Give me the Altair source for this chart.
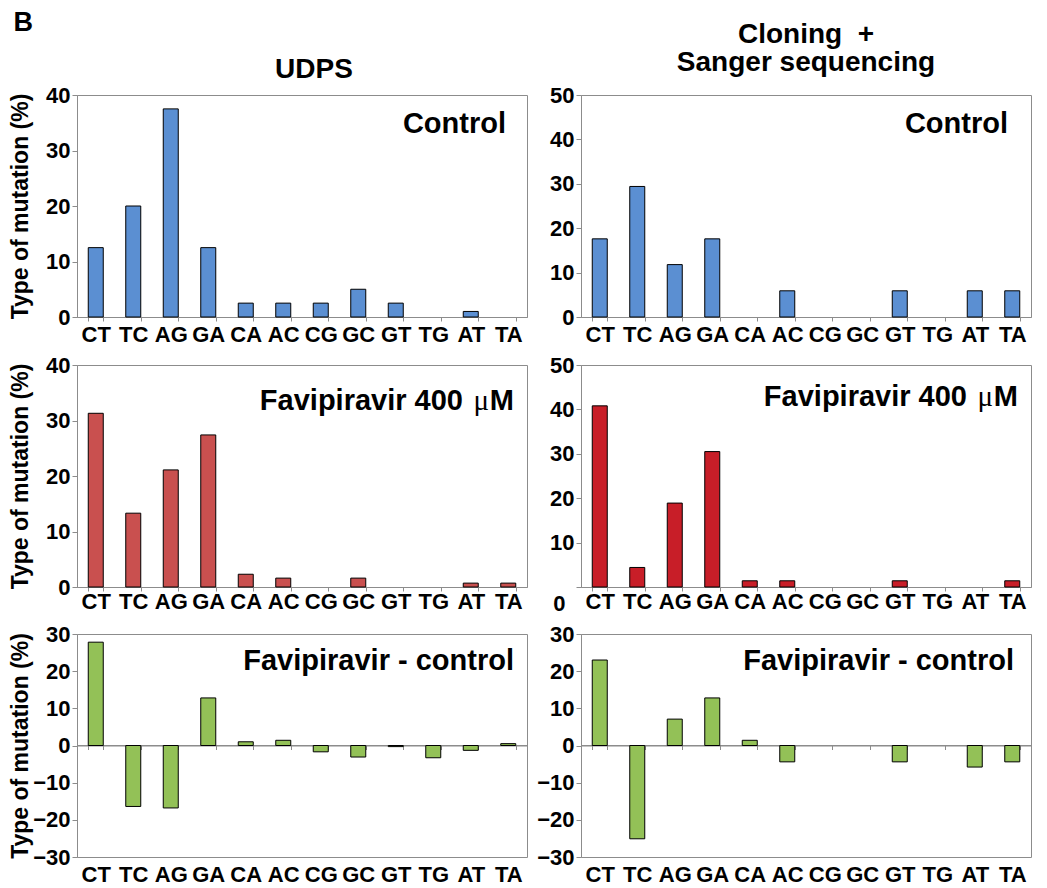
import altair as alt
import pandas as pd

cats = ["CT", "TC", "AG", "GA", "CA", "AC", "CG", "GC", "GT", "TG", "AT", "TA"]
udps_control = [12.5, 20.0, 37.5, 12.5, 2.5, 2.5, 2.5, 5.0, 2.5, 0, 1.0, 0]
sanger_control = [17.6, 29.4, 11.8, 17.6, 0, 5.9, 0, 0, 5.9, 0, 5.9, 5.9]
udps_fav = [31.3, 13.3, 21.1, 27.4, 2.3, 1.6, 0, 1.6, 0, 0, 0.7, 0.7]
sanger_fav = [40.8, 4.4, 18.9, 30.5, 1.4, 1.4, 0, 0, 1.4, 0, 0, 1.4]
udps_diff = [27.8, -16.4, -16.8, 12.8, 1.0, 1.4, -1.7, -3.1, -0.3, -3.3, -1.3, 0.5]
sanger_diff = [23.0, -25.1, 7.1, 12.8, 1.4, -4.4, 0, 0, -4.4, 0, -5.8, -4.4]

ticks_40 = [0, 10, 20, 30, 40]
ticks_50 = [0, 10, 20, 30, 40, 50]
ticks_30 = [-30, -20, -10, 0, 10, 20, 30]

FONT = "Liberation Sans"
SERIF = "Liberation Serif"
GRAY = "#8c8c8c"
W = 450
YTITLE = "Type of mutation (%)"


def label_layers(label, lab_x, lab_y):
    """Panel caption; the micro sign is set in a regular serif face as in the original."""
    base = dict(baseline="alphabetic", align="right", color="#000000", fontSize=29)
    if "\u03bc" in label:
        head, tail = label.split("\u03bc")
        parts = [
            (head.strip(), lab_x - 51, FONT, "bold"),
            ("\u03bc", lab_x - 25, SERIF, "normal"),
            (tail, lab_x, FONT, "bold"),
        ]
    else:
        parts = [(label, lab_x, FONT, "bold")]
    layers = []
    for t, xx, f, fw in parts:
        layers.append(
            alt.Chart(pd.DataFrame({"t": [t]})).mark_text(font=f, fontWeight=fw, **base)
            .encode(text="t:N", x=alt.value(xx), y=alt.value(lab_y))
        )
    return layers


def panel(values, color, domain, ticks, label, lab_x, lab_y, h, left,
          mid_zero=False, label_pad=3, title=None, zero_label_shift=False):
    df = pd.DataFrame({"mut": cats, "val": values})
    xaxis_kw = dict(title=None, tickBand="extent", labelAngle=0, tickSize=4,
                    labelPadding=label_pad, labelOverlap=False, labelFontSize=22)
    if mid_zero:
        xaxis_kw["offset"] = -h / 2
        xaxis_kw["labelPadding"] = h / 2 + label_pad
    yaxis_kw = dict(values=ticks, tickSize=5, labelPadding=2, minExtent=39,
                    maxExtent=39, grid=False, labelOverlap=False,
                    title=YTITLE if left else None, titlePadding=6)
    if zero_label_shift:
        yaxis_kw["labelOffset"] = {"condition": {"test": "datum.value === 0", "value": 16}, "value": 0}
        yaxis_kw["labelPadding"] = {"condition": {"test": "datum.value === 0", "value": 11}, "value": 2}
    xenc = alt.X("mut:N", sort=cats,
                 scale=alt.Scale(domain=cats, paddingInner=0.6, paddingOuter=0.3),
                 axis=alt.Axis(**xaxis_kw))
    yscale = alt.Scale(domain=domain, nice=False)
    yaxis = alt.Axis(**yaxis_kw)
    bars = alt.Chart(df).transform_filter("datum.val != 0").mark_bar(
        fill=color, stroke="#000000", strokeWidth=1
    ).encode(
        x=xenc,
        y=alt.Y("val:Q", scale=yscale, axis=yaxis),
    )
    layers = [bars]
    if mid_zero:
        zero_line = alt.Chart(pd.DataFrame({"val": [0]})).mark_rule(
            color=GRAY, strokeWidth=1
        ).encode(y=alt.Y("val:Q", scale=yscale, axis=yaxis))
        layers = [zero_line, bars]
    layers += label_layers(label, lab_x, lab_y)
    props = dict(width=W, height=h)
    if title is not None:
        props["title"] = title
    return alt.layer(*layers).properties(**props)


t_left = alt.TitleParams([" ", "UDPS"], fontSize=28, lineHeight=35, offset=0,
                         font=FONT, fontWeight="bold", color="#000000", dx=12)
t_right = alt.TitleParams(["Cloning \u00a0+", "Sanger sequencing"], fontSize=28,
                          lineHeight=28, offset=7, font=FONT, fontWeight="bold",
                          color="#000000")

FAV = "Favipiravir 400 \u03bcM"
p1 = panel(udps_control, "#5B8FD2", [0, 40], ticks_40, "Control", 429, 38, 222, True, title=t_left)
p2 = panel(sanger_control, "#5B8FD2", [0, 50], ticks_50, "Control", 427, 38, 222, False, title=t_right)
p3 = panel(udps_fav, "#C9504F", [0, 40], ticks_40, FAV, 437, 45, 222, True, label_pad=0)
p4 = panel(sanger_fav, "#C81E28", [0, 50], ticks_50, FAV, 437, 41, 222, False,
           label_pad=0, zero_label_shift=True)
p5 = panel(udps_diff, "#93C157", [-30, 30], ticks_30, "Favipiravir - control", 437, 36, 223, True, mid_zero=True)
p6 = panel(sanger_diff, "#93C157", [-30, 30], ticks_30, "Favipiravir - control", 433, 36, 223, False, mid_zero=True)

chart = alt.concat(p1, p2, p3, p4, p5, p6, columns=2, spacing={"row": 7, "column": 8}).properties(
    padding=0,
    title=alt.TitleParams("B", anchor="start", fontSize=27, offset=-16, dx=5, font=FONT,
                          fontWeight="bold", color="#000000", frame="bounds"),
).configure_view(
    stroke=GRAY, strokeWidth=1
).configure_axis(
    labelFont=FONT, labelFontWeight="bold", labelFontSize=22, labelColor="#000000",
    titleFont=FONT, titleFontWeight="bold", titleFontSize=23, titleColor="#000000",
    domainColor=GRAY, tickColor=GRAY, domainWidth=1, tickWidth=1,
)

chart.save("out.html", embed_options={"renderer": "svg", "actions": False})
